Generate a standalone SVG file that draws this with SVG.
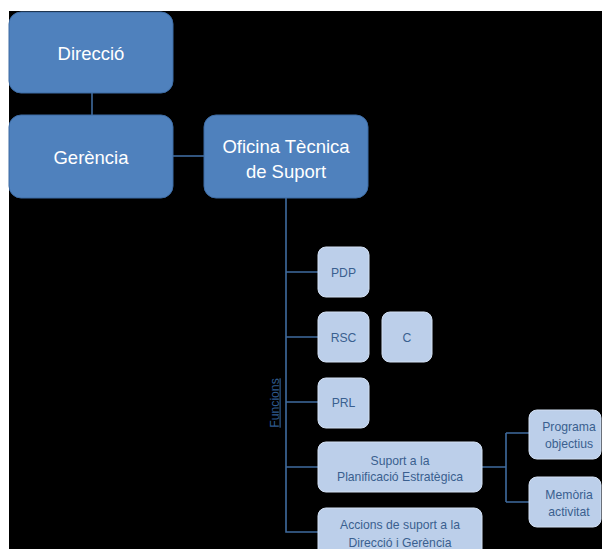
<svg xmlns="http://www.w3.org/2000/svg" width="602" height="549" viewBox="0 0 602 549">
<style>
.dark{fill:#4F81BD;stroke:#3D6BA3;stroke-width:1}
.light{fill:#BCCFEA;stroke:#D3E0F3;stroke-width:1}
.dt{font-family:"Liberation Sans",Arial,sans-serif;font-size:18.5px;fill:#FFFFFF;text-anchor:middle}
.lt{font-family:"Liberation Sans",Arial,sans-serif;font-size:12.2px;fill:#3A5F8F;text-anchor:middle}
.con{fill:none;stroke:#3F6B9E;stroke-width:1.6}
</style>
<rect x="0" y="0" width="602" height="549" fill="#FFFFFF"/>
<rect x="9" y="11" width="593" height="538" fill="#000000"/>
<g id="connectors">
<path class="con" d="M92,93 V115"/>
<path class="con" d="M173,156 H204"/>
<path class="con" d="M286,198 V532 H318"/>
<path class="con" d="M286,272 H318 M286,337 H318 M286,402 H318 M286,467 H318"/>
<path class="con" d="M482,467 H506 M506,433 V502 M506,433 H529 M506,502 H529"/>
</g>
<g id="direccio"><rect class="dark" x="9" y="12" width="164" height="81" rx="12"/><text class="dt" x="91" y="59.5">Direcció</text></g>
<g id="gerencia"><rect class="dark" x="9" y="115" width="164" height="83" rx="12"/><text class="dt" x="91" y="163.5">Gerència</text></g>
<g id="oficina"><rect class="dark" x="204" y="115" width="164" height="83" rx="12"/><text class="dt" x="286" y="152.5">Oficina Tècnica</text><text class="dt" x="286" y="177.5">de Suport</text></g>
<g id="funcions"><text transform="translate(278.5,403) rotate(-90)" x="0" y="0" style="font-family:'Liberation Sans',Arial,sans-serif;font-size:12.2px;fill:#2E5A8E;text-anchor:middle;text-decoration:underline">Funcions</text></g>
<g id="pdp"><rect class="light" x="318" y="247" width="51" height="50" rx="8"/><text class="lt" x="343.5" y="276.5">PDP</text></g>
<g id="rsc"><rect class="light" x="318" y="312" width="51" height="50" rx="8"/><text class="lt" x="343.5" y="341.5">RSC</text></g>
<g id="c"><rect class="light" x="382" y="312" width="50" height="50" rx="8"/><text class="lt" x="407" y="341.5">C</text></g>
<g id="prl"><rect class="light" x="318" y="378" width="51" height="50" rx="8"/><text class="lt" x="343.5" y="406.5">PRL</text></g>
<g id="suport"><rect class="light" x="318" y="442" width="164" height="50" rx="8"/><text class="lt" x="400" y="464.5">Suport a la</text><text class="lt" x="400" y="480.5">Planificació Estratègica</text></g>
<g id="accions"><rect class="light" x="318" y="508" width="164" height="50" rx="8"/><text class="lt" x="400" y="528.5">Accions de suport a la</text><text class="lt" x="400" y="547">Direcció i Gerència</text></g>
<g id="programa"><rect class="light" x="529" y="410" width="72" height="49" rx="8"/><text class="lt" x="569" y="430.5">Programa</text><text class="lt" x="569" y="447.5">objectius</text></g>
<g id="memoria"><rect class="light" x="529" y="477" width="72" height="50" rx="8"/><text class="lt" x="569" y="498.5">Memòria</text><text class="lt" x="569" y="515.5">activitat</text></g>
</svg>
